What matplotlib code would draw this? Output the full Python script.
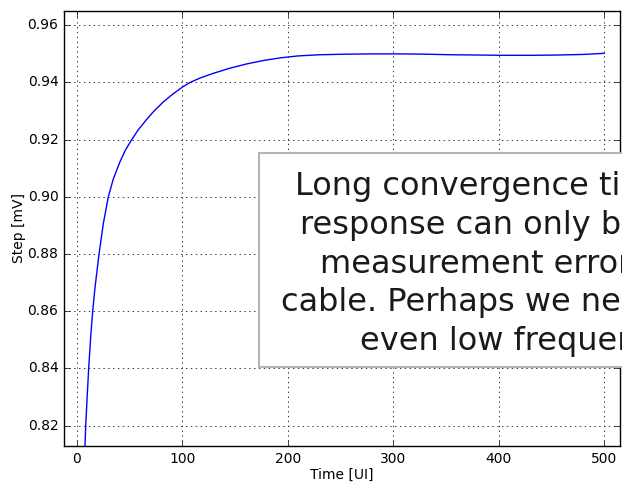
import matplotlib
matplotlib.use("Agg")
import matplotlib.pyplot as plt
from matplotlib.patches import Rectangle

plt.style.use("classic")

# step response
time_ui = [7.6, 8.3, 9.5, 11.1, 13.0, 14.9, 17.0, 20.9, 25.0, 29.7, 34.4,
           40.8, 46.0, 51.9, 58.0, 66.1, 73.0, 81.9, 90.0, 100.0, 107.2,
           117.0, 129.3, 145.0, 161.0, 177.0, 192.6, 210.0, 230.0, 255.0,
           280.0, 305.0, 330.0, 355.0, 380.0, 405.0, 430.0, 455.0, 480.0,
           500.0]
step_mv = [0.8130, 0.8200, 0.8290, 0.8400, 0.8510, 0.8600, 0.8680, 0.8800,
           0.8907, 0.9000, 0.9062, 0.9123, 0.9164, 0.9200, 0.9234, 0.9271,
           0.9300, 0.9332, 0.9357, 0.9384, 0.9400, 0.9416, 0.9432, 0.9450,
           0.9465, 0.9477, 0.9486, 0.9493, 0.9497, 0.9499, 0.9500, 0.9500,
           0.9499, 0.9497, 0.9496, 0.9495, 0.9495, 0.9496, 0.9498, 0.9502]

xticks = [0, 100, 200, 300, 400, 500]
yticks = [0.82, 0.84, 0.86, 0.88, 0.90, 0.92, 0.94, 0.96]

note = ("Long convergence times for step\n"
        "response can only be due to the\n"
        "measurement error or a lossy\n"
        "cable. Perhaps we need to capture\n"
        "even low frequency loss.")

fig = plt.figure(figsize=(6.22, 4.82), dpi=100, facecolor="white")
ax = fig.add_axes([0.1029, 0.0747, 0.894, 0.9025])

ax.plot(time_ui, step_mv, color="b", linewidth=1.0)
ax.set_xlim(-12.3, 515)
ax.set_ylim(0.8129, 0.965)
ax.set_xticks(xticks)
ax.set_yticks(yticks)
ax.set_yticklabels(["%.2f" % v for v in yticks])
ax.tick_params(labelsize=10)
ax.grid(True, linestyle=(0, (1, 2.5)), linewidth=0.7, color="#333333")
ax.set_xlabel("Time [UI]", fontsize=10, labelpad=2)
ax.set_ylabel("Step [mV]", fontsize=10, labelpad=1)

# white note box, runs off the right edge of the figure
box = Rectangle((259.3 / 622, 1 - 367.3 / 482), 0.7, 214.0 / 482,
                transform=fig.transFigure, facecolor="white",
                edgecolor="#b4b4b4", linewidth=1.5, zorder=4)
fig.patches.append(box)

fig.text((64 + 0.8883 * 556) / 622, 1 - 264.0 / 482, note, fontsize=23.0,
         linespacing=1.32, ha="center", va="center", multialignment="center",
         color="#1a1a1a", zorder=5)

fig.savefig("out.png", dpi=100, facecolor="white")
